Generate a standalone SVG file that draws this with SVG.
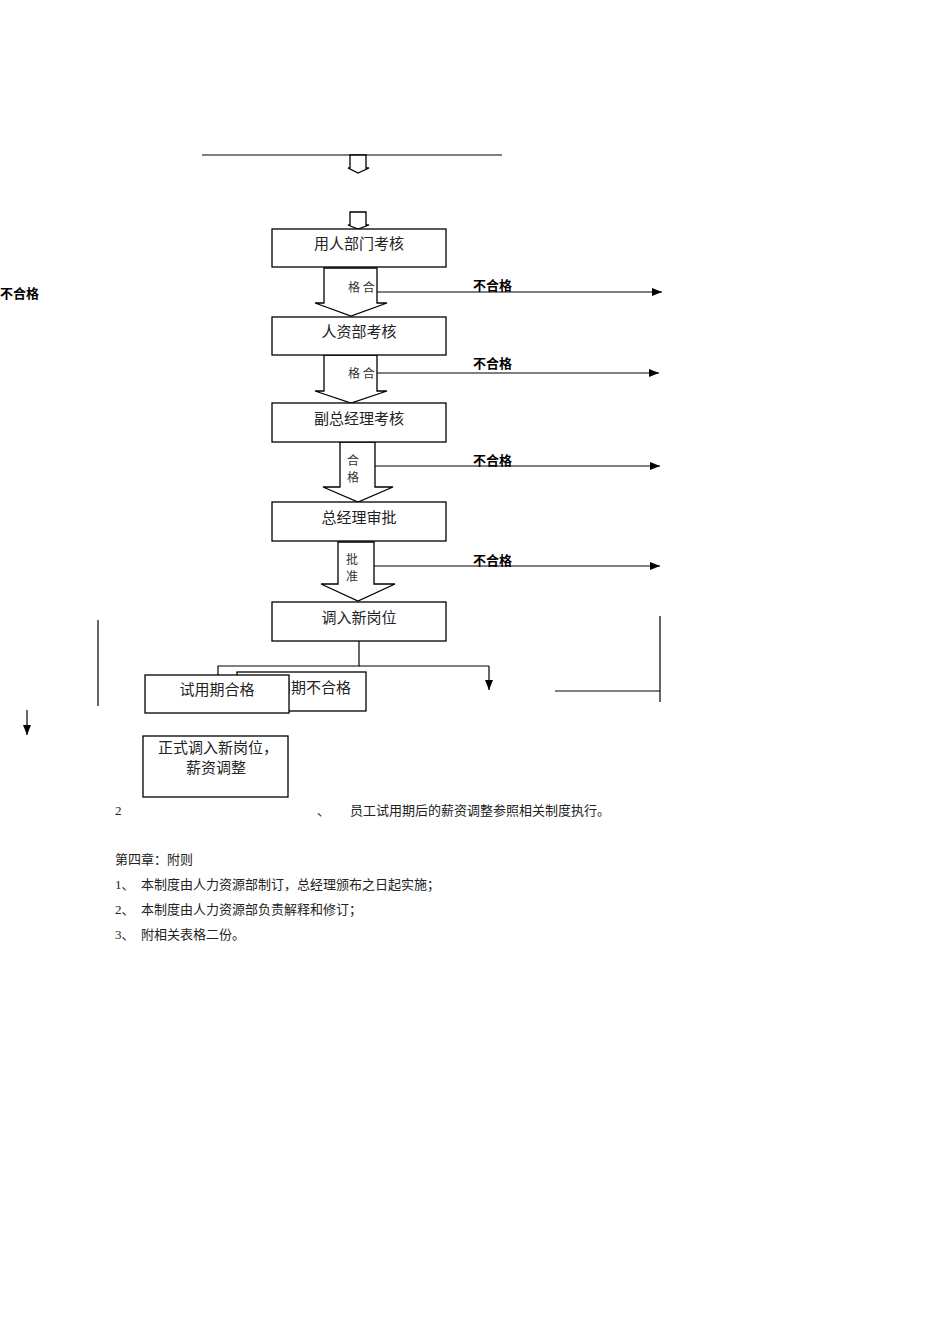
<svg xmlns="http://www.w3.org/2000/svg" width="950" height="1344" viewBox="0 0 950 1344">
<style>
.b{fill:#fff;stroke:#000;stroke-width:1.3}
.l{stroke:#000;stroke-width:1.2;fill:none}
.t{font-family:"Noto Sans CJK SC",sans-serif;font-size:15px;fill:#222;text-anchor:middle}
.s{font-family:"Noto Sans CJK SC",sans-serif;font-size:12px;fill:#333}
.n{font-family:"Liberation Sans","Noto Sans CJK SC",sans-serif;font-size:13px;font-weight:bold;fill:#000}
.d{font-family:"Liberation Serif","Noto Sans CJK SC",serif;font-size:13px;fill:#222}
</style>
<defs><marker id="a" markerWidth="10" markerHeight="8" refX="10" refY="4" orient="auto" markerUnits="userSpaceOnUse"><path d="M0,0L10,4L0,8z"/></marker></defs>
<g id="connectors">
<line class="l" x1="202" y1="155" x2="502" y2="155"/>
<path class="b" d="M350,155V168H348L358,173L369,168H366V155Z"/>
<path class="b" d="M350,212V225H348L358,229L369,225H366V212Z"/>
<path class="b" d="M324,268V303H315L351,316L387,303H377V268Z"/>
<path class="b" d="M324,355V391H315L351,403L387,391H377V355Z"/>
<path class="b" d="M340,442V487H323L358,502L393,487H375V442Z"/>
<path class="b" d="M338,542V584H321L358,601L395,584H374V542Z"/>
<line class="l" x1="377" y1="292" x2="662" y2="292" marker-end="url(#a)"/>
<line class="l" x1="377" y1="373" x2="659" y2="373" marker-end="url(#a)"/>
<line class="l" x1="375" y1="466" x2="660" y2="466" marker-end="url(#a)"/>
<line class="l" x1="374" y1="566" x2="660" y2="566" marker-end="url(#a)"/>
<polyline class="l" points="359,641 359,666 218,666 218,675"/>
<line class="l" x1="359" y1="666" x2="489" y2="666"/>
<line class="l" x1="489" y1="666" x2="489" y2="690" marker-end="url(#a)"/>
<line class="l" x1="98" y1="620" x2="98" y2="706"/>
<line class="l" x1="27" y1="710" x2="27" y2="735" marker-end="url(#a)"/>
<line class="l" x1="660" y1="616" x2="660" y2="702"/>
<line class="l" x1="555" y1="691" x2="660" y2="691"/>
</g>
<text class="s" x="348" y="292">格 合</text>
<text class="s" x="348" y="378">格 合</text>
<text class="s" x="347" y="465">合</text><text class="s" x="347" y="482">格</text>
<text class="s" x="346" y="564">批</text><text class="s" x="346" y="581">准</text>
<text class="n" x="473" y="290">不合格</text>
<text class="n" x="473" y="368">不合格</text>
<text class="n" x="473" y="465">不合格</text>
<text class="n" x="473" y="565">不合格</text>
<text class="n" x="0" y="298">不合格</text>
<g id="n1"><rect class="b" x="272" y="229" width="174" height="38"/><text class="t" x="359" y="249">用人部门考核</text></g>
<g id="n2"><rect class="b" x="272" y="317" width="174" height="38"/><text class="t" x="359" y="337">人资部考核</text></g>
<g id="n3"><rect class="b" x="272" y="403" width="174" height="39"/><text class="t" x="359" y="424">副总经理考核</text></g>
<g id="n4"><rect class="b" x="272" y="502" width="174" height="39"/><text class="t" x="359" y="523">总经理审批</text></g>
<g id="n5"><rect class="b" x="272" y="602" width="174" height="39"/><text class="t" x="359" y="623">调入新岗位</text></g>
<g id="n6"><rect class="b" x="237" y="672" width="129" height="39"/><text class="t" x="261" y="693" style="text-anchor:start">试用期不合格</text></g>
<g id="n7"><rect class="b" x="145" y="675" width="144" height="38"/><text class="t" x="217" y="695">试用期合格</text></g>
<g id="n8"><rect class="b" x="143" y="736" width="145" height="61"/><text class="t" x="218" y="753">正式调入新岗位，</text><text class="t" x="216" y="773">薪资调整</text></g>
<text class="d" x="115" y="815">2</text>
<text class="d" x="317" y="815">、</text>
<text class="d" x="350" y="815">员工试用期后的薪资调整参照相关制度执行。</text>
<text class="d" x="115" y="864">第四章：附则</text>
<text class="d" x="115" y="889">1、　本制度由人力资源部制订，总经理颁布之日起实施；</text>
<text class="d" x="115" y="914">2、　本制度由人力资源部负责解释和修订；</text>
<text class="d" x="115" y="939">3、　附相关表格二份。</text>
</svg>
